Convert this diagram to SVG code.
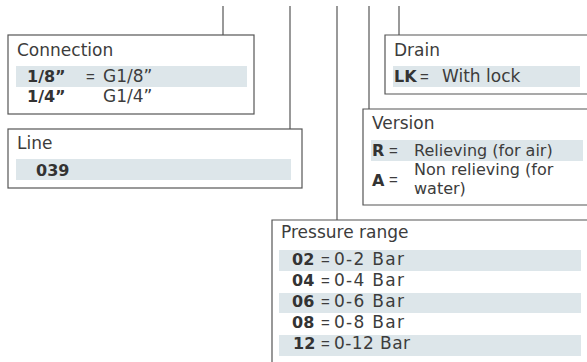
<svg xmlns="http://www.w3.org/2000/svg" width="587" height="362" viewBox="0 0 587 362">
  <style>
    .box { fill: #ffffff; stroke: #555555; stroke-width: 1.2; }
    .lead { fill: none; stroke: #555555; stroke-width: 1.2; }
    .band { fill: #dde6ea; }
    .title { font-family: "DejaVu Sans", "Liberation Sans", sans-serif; font-size: 17px; fill: #3c3c3c; }
    .val { font-family: "DejaVu Sans", "Liberation Sans", sans-serif; font-size: 17px; fill: #3c3c3c; }
    .val.small { font-size: 16px; }
    .code { font-family: "DejaVu Sans", "Liberation Sans", sans-serif; font-size: 16px; font-weight: bold; fill: #333333; }
    .eq { font-family: "Liberation Sans", "DejaVu Sans", sans-serif; font-size: 15px; fill: #3c3c3c; }
  </style>

  <!-- leader lines running down from the product code -->
  <g id="connectors">
    <line class="lead" x1="223" y1="6" x2="223" y2="35"/>
    <line class="lead" x1="290" y1="6" x2="290" y2="129"/>
    <line class="lead" x1="337" y1="6" x2="337" y2="220"/>
    <line class="lead" x1="369" y1="6" x2="369" y2="109"/>
    <line class="lead" x1="399" y1="6" x2="399" y2="35"/>
  </g>

  <g id="connection">
    <rect class="box" x="8" y="35" width="246" height="79"/>
    <text class="title" x="17" y="56">Connection</text>
    <rect class="band" x="16" y="66" width="231" height="21"/>
    <text class="code" x="27" y="82">1/8”</text>
    <text class="eq" x="86" y="82">=</text>
    <text class="val" x="103" y="82">G1/8”</text>
    <text class="code" x="27" y="102">1/4”</text>
    <text class="val" x="103" y="102">G1/4”</text>
  </g>

  <g id="line">
    <rect class="box" x="8" y="129" width="294" height="59"/>
    <text class="title" x="17" y="149">Line</text>
    <rect class="band" x="16" y="159" width="275" height="21"/>
    <text class="code" x="36" y="176">039</text>
  </g>

  <g id="drain">
    <path class="box" d="M592 35 H385 V94 H592"/>
    <text class="title" x="394" y="56">Drain</text>
    <rect class="band" x="393" y="66" width="187" height="21"/>
    <text class="code" x="394" y="82">LK</text>
    <text class="eq" x="420" y="82">=</text>
    <text class="val" x="442" y="82">With lock</text>
  </g>

  <g id="version">
    <path class="box" d="M592 109 H363 V205 H592"/>
    <text class="title" x="372" y="129">Version</text>
    <rect class="band" x="371" y="140" width="212" height="21"/>
    <text class="code" x="372" y="156">R</text>
    <text class="eq" x="389" y="156">=</text>
    <text class="val small" x="414" y="156">Relieving (for air)</text>
    <text class="code" x="372" y="186">A</text>
    <text class="eq" x="389" y="185">=</text>
    <text class="val small" x="414" y="175">Non relieving (for</text>
    <text class="val small" x="414" y="194">water)</text>
  </g>

  <g id="pressure-range">
    <path class="box" d="M592 220 H272 V370"/>
    <text class="title" x="281" y="238">Pressure range</text>
    <rect class="band" x="279" y="250" width="302" height="21"/>
    <rect class="band" x="279" y="293" width="302" height="20"/>
    <rect class="band" x="279" y="335" width="302" height="21"/>
    <text class="code" x="292" y="265">02</text>
    <text class="eq" x="321" y="265">=</text>
    <text class="val" x="334" y="265" textLength="70">0-2 Bar</text>
    <text class="code" x="292" y="286">04</text>
    <text class="eq" x="321" y="286">=</text>
    <text class="val" x="334" y="286" textLength="70">0-4 Bar</text>
    <text class="code" x="292" y="307">06</text>
    <text class="eq" x="321" y="307">=</text>
    <text class="val" x="334" y="307" textLength="70">0-6 Bar</text>
    <text class="code" x="292" y="328">08</text>
    <text class="eq" x="321" y="328">=</text>
    <text class="val" x="334" y="328" textLength="70">0-8 Bar</text>
    <text class="code" x="293" y="349">12</text>
    <text class="eq" x="321" y="349">=</text>
    <text class="val" x="334" y="349" textLength="76">0-12 Bar</text>
  </g>
</svg>
